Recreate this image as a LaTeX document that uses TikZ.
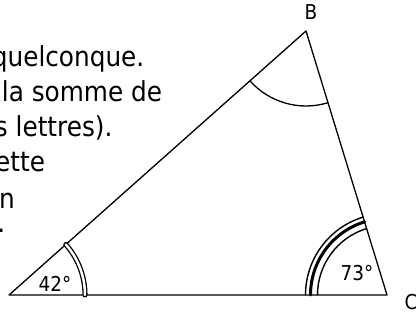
\documentclass[tikz,border=0pt]{standalone}
\usepackage{fontspec}
\setmainfont{DejaVu Sans}[FakeStretch=0.9]
\usetikzlibrary{angles}
\tikzset{figure/.style={
  x=1pt,y=1pt,
  line join=round,line cap=round
},
side/.style={line width=1.3pt},
anglearc/.style={draw,line width=1.3pt},
vertexlabel/.style={font=\fontsize{20.5pt}{24pt}\selectfont},
textline/.style={anchor=base east,inner sep=0pt,font=\fontsize{27.5pt}{33pt}\selectfont}}

\begin{document}
\begin{tikzpicture}[figure]
  \useasboundingbox (0,0) rectangle (416,324);
  \coordinate (A) at (9,29);
  \coordinate (B) at (306,293);
  \coordinate (C) at (387,29);
  \draw[side] (A)--(C)--(B)--cycle;
  \pic[anglearc,double,double distance=2.5pt,angle radius=76pt] {angle=C--A--B};
  \pic[anglearc,line width=1.4pt,angle radius=81.5pt] {angle=B--C--A};
  \pic[anglearc,line width=3pt,angle radius=76.5pt] {angle=B--C--A};
  \pic[anglearc,line width=1.4pt,angle radius=69.5pt] {angle=B--C--A};
  \pic[anglearc,angle radius=75pt] {angle=A--B--C};
  \node[vertexlabel] (lB) at (311,311.5) {B};
  \node[vertexlabel] (lC) at (411,22) {C};
  \node[vertexlabel] (aA) at (55,40) {42°};
  \node[vertexlabel] (aC) at (357,51) {73°};
  \node[textline] (t1) at (144.5,257) {quelconque.};
  \node[textline] (t2) at (162.3,222) {la somme de};
  \node[textline] (t3) at (112.7,187) {s lettres).};
  \node[textline] (t4) at (45.3,152) {ette};
  \node[textline] (t5) at (15,115) {n};
  \node[textline] (t6) at (5.5,91) {.};
\end{tikzpicture}
\end{document}
